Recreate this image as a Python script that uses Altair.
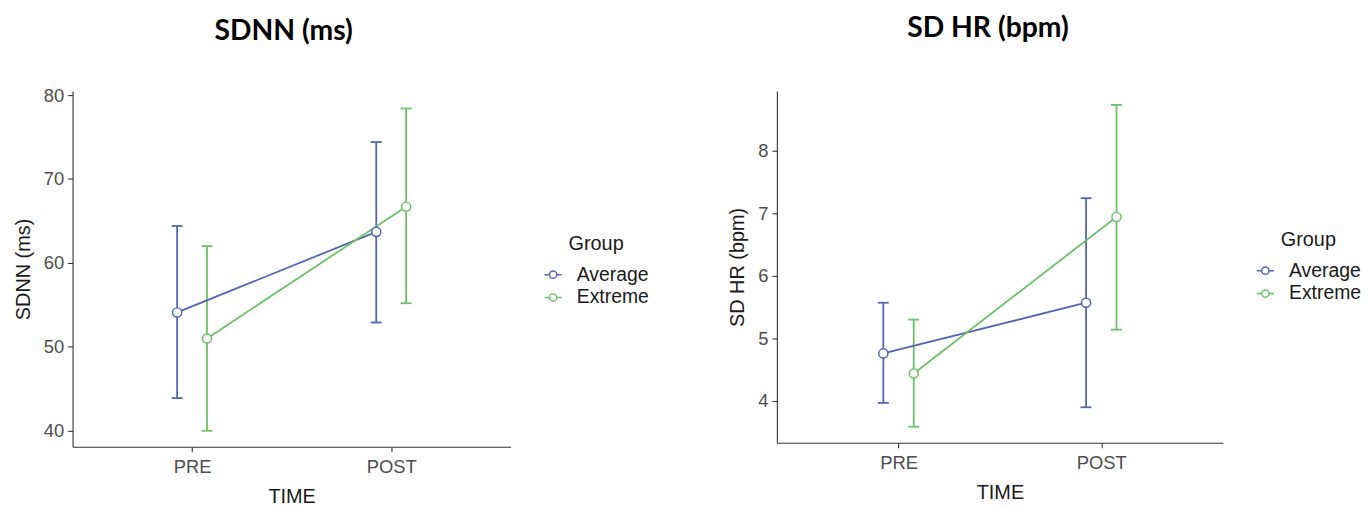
import altair as alt
import pandas as pd

groups = ["Average", "Extreme", "Average", "Extreme"]
times = ["PRE", "PRE", "POST", "POST"]

sdnn_mean = [54.1, 51.0, 63.7, 66.7]
sdnn_low = [43.9, 40.0, 52.9, 55.2]
sdnn_high = [64.4, 62.0, 74.4, 78.4]

sdhr_mean = [4.76, 4.44, 5.57, 6.94]
sdhr_low = [3.97, 3.59, 3.90, 5.14]
sdhr_high = [5.57, 5.30, 7.24, 8.73]

sdnn_ticks = [40, 50, 60, 70, 80]
sdhr_ticks = [4, 5, 6, 7, 8]

group_names = ["Average", "Extreme"]
group_colors = ["#5465b5", "#6ac267"]

FONT = "Liberation Sans"
LEGEND_SYMBOL = ("M-1,0L-0.42,0M0.42,0L1,0M-0.42,0A0.42,0.42,0,1,1,0.42,0"
                 "A0.42,0.42,0,1,1,-0.42,0Z")


def panel(means, lows, highs, title, ytitle, yticks, domain, w, h,
          title_offset, title_dx, leg_x, leg_y):
    df = pd.DataFrame({"group": groups, "time": times, "mean": means,
                       "low": lows, "high": highs})
    base = alt.Chart(df).transform_calculate(
        xpos="(datum.time == 'PRE' ? 1 : 2) + (datum.group == 'Average' ? -0.075 : 0.075)"
    )
    x = alt.X("xpos:Q", scale=alt.Scale(domain=[0.4, 2.6], nice=False, zero=False),
              axis=alt.Axis(values=[1, 2],
                            labelExpr="datum.value == 1 ? 'PRE' : 'POST'",
                            title="TIME"))
    yscale = alt.Scale(domain=domain, nice=False, zero=False)
    color = alt.Color(
        "group:N", scale=alt.Scale(domain=group_names, range=group_colors),
        legend=alt.Legend(title="Group", orient="none", legendX=leg_x, legendY=leg_y,
                          symbolType=LEGEND_SYMBOL, symbolSize=300,
                          symbolFillColor="white", symbolStrokeWidth=1.5,
                          symbolOpacity=1,
                          labelFont=FONT, labelFontSize=19.5, labelColor="#1a1a1a",
                          labelOffset=14, titleFont=FONT, titleFontSize=20,
                          titleFontWeight="normal", titleColor="#1a1a1a",
                          titleAnchor="middle", titlePadding=11, rowPadding=2,
                          padding=0))
    rules = base.mark_rule(strokeWidth=1.8).encode(
        x=x, y=alt.Y("low:Q", scale=yscale,
                     axis=alt.Axis(values=yticks, title=ytitle, format="d")),
        y2="high:Q", color=color)
    cap_lo = base.mark_rule(strokeWidth=1.8, xOffset=-5.5, x2Offset=5.5).encode(
        x=x, x2="xpos:Q", y=alt.Y("low:Q", scale=yscale), color=color)
    cap_hi = base.mark_rule(strokeWidth=1.8, xOffset=-5.5, x2Offset=5.5).encode(
        x=x, x2="xpos:Q", y=alt.Y("high:Q", scale=yscale), color=color)
    line = base.mark_line(strokeWidth=1.8).encode(
        x=x, y=alt.Y("mean:Q", scale=yscale), color=color,
        order="xpos:Q")
    pts = base.mark_point(filled=False, fill="white", size=85, strokeWidth=1.5,
                          opacity=1).encode(
        x=x, y=alt.Y("mean:Q", scale=yscale), color=color)
    return alt.layer(rules, cap_lo, cap_hi, line, pts).properties(
        width=w, height=h,
        title=alt.TitleParams(title, font="Lato", fontSize=28.5, fontWeight="bold",
                              anchor="middle", frame="group", dx=title_dx,
                              offset=title_offset, color="black"))


left = panel(sdnn_mean, sdnn_low, sdnn_high, "SDNN (ms)", "SDNN (ms)", sdnn_ticks,
             [38.1, 80.47], 441, 358, 41, -8, 474, 144)
right = panel(sdhr_mean, sdhr_low, sdhr_high, "SD HR (bpm)", "SD HR (bpm)", sdhr_ticks,
              [3.333, 8.95], 449, 354, 48.5, -12, 482, 140)

chart = alt.hconcat(left, right, spacing=78).resolve_scale(
    color="independent", x="independent", y="independent"
).resolve_legend(color="independent").properties(
    padding={"left": 5, "top": 5, "right": 0, "bottom": 0}
).configure_view(
    stroke=None
).configure_axis(
    grid=False, domainColor="#333333", domainWidth=1.1, tickColor="#333333",
    tickWidth=1.1, tickSize=5, labelColor="#4d4d4d", labelFont=FONT,
    labelFontSize=18.5, labelPadding=4, titleFont=FONT, titleFontSize=20,
    titleFontWeight="normal", titleColor="#1a1a1a"
).configure_axisX(labelPadding=6, titlePadding=11).configure_axisY(titlePadding=10)

chart.save("out.html", embed_options={"renderer": "svg", "actions": False})
